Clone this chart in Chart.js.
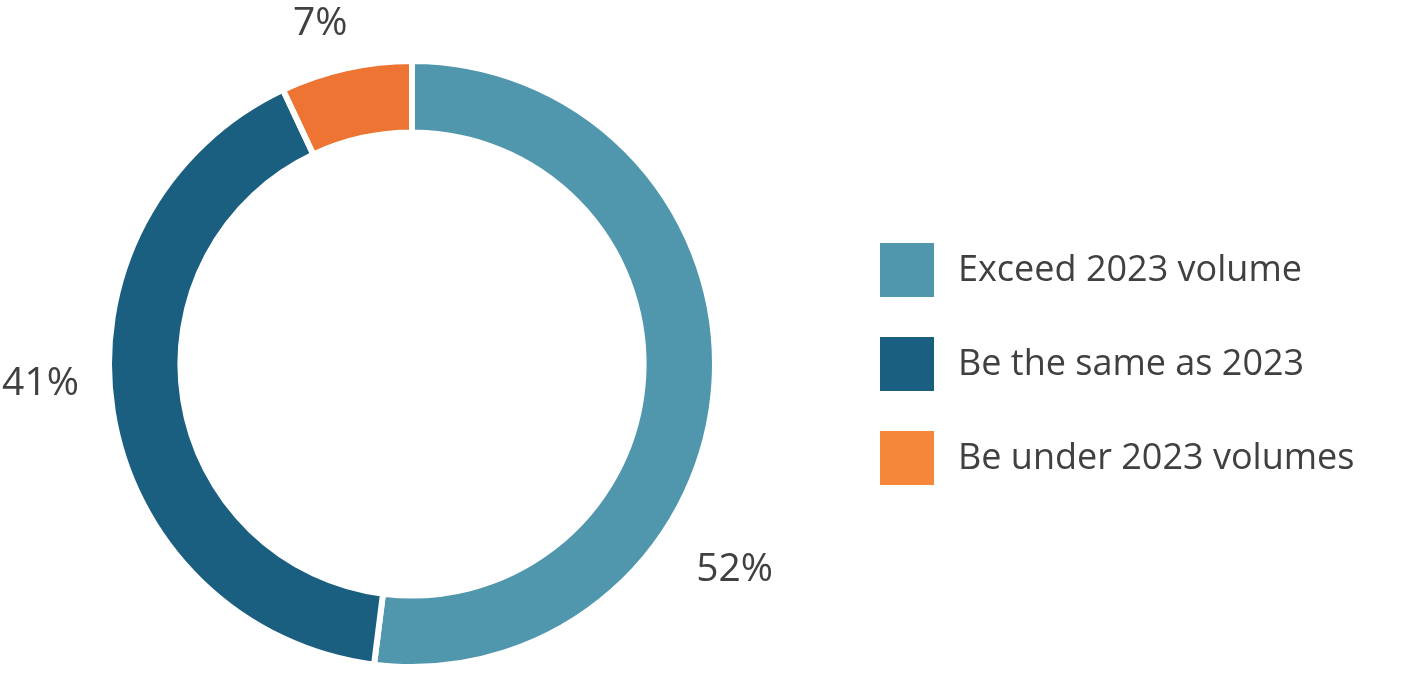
<!DOCTYPE html>
<html>
<head>
<meta charset="utf-8">
<script src="https://cdn.jsdelivr.net/npm/chart.js@4.4.1/dist/chart.umd.min.js"></script>
<style>
html,body{margin:0;padding:0;background:#fff;}
#wrap{position:relative;width:1417px;height:678px;}
</style>
</head>
<body>
<div id="wrap"><canvas id="c" width="1417" height="678"></canvas></div>
<script>
const categories = ["Exceed 2023 volume", "Be the same as 2023", "Be under 2023 volumes"];
const shares = [52, 41, 7];
const sliceColors = ["#5097AE", "#1B5F80", "#ED7433"];
const legendColors = ["#5097AE", "#1B5F80", "#F5873A"];

const FONT = "'Open Sans', 'DejaVu Sans', sans-serif";
const TEXT = "#404040";

// per-label placement tweaks (angle shift in degrees, distance beyond outer radius)
const labelShift = [29, 6, -2.5];
const labelGap = [80, 69, 49];

const labelPlugin = {
  id: 'outLabels',
  afterDatasetsDraw(chart) {
    const ctx = chart.ctx;
    const meta = chart.getDatasetMeta(0);
    ctx.save();
    ctx.font = "39px " + FONT;
    ctx.fillStyle = TEXT;
    ctx.textAlign = 'center';
    ctx.textBaseline = 'middle';
    meta.data.forEach((arc, i) => {
      const p = arc.getProps(['x','y','startAngle','endAngle','outerRadius'], true);
      const mid = (p.startAngle + p.endAngle) / 2 + labelShift[i] * Math.PI / 180;
      const r = p.outerRadius + labelGap[i];
      const x = p.x + Math.cos(mid) * r;
      const y = p.y + Math.sin(mid) * r;
      ctx.fillText(chart.data.datasets[0].data[i] + '%', x, y);
    });
    ctx.restore();
  }
};

const legendPlugin = {
  id: 'sideLegend',
  afterDraw(chart) {
    const ctx = chart.ctx;
    ctx.save();
    ctx.font = "36px " + FONT;
    ctx.textAlign = 'left';
    ctx.textBaseline = 'middle';
    const x0 = 880, y0 = 270, step = 94, box = 54;
    chart.data.labels.forEach((lab, i) => {
      const cy = y0 + i * step;
      ctx.fillStyle = legendColors[i];
      ctx.fillRect(x0, cy - box / 2, box, box);
      ctx.fillStyle = TEXT;
      ctx.fillText(lab, x0 + 78, cy + 1);
    });
    ctx.restore();
  }
};

new Chart(document.getElementById('c'), {
  type: 'doughnut',
  data: {
    labels: categories,
    datasets: [{
      data: shares,
      backgroundColor: sliceColors,
      borderColor: '#ffffff',
      borderWidth: 6,
      hoverOffset: 0
    }]
  },
  options: {
    responsive: false,
    animation: false,
    radius: 303,
    cutout: 227,
    layout: { padding: { left: 112, right: 705, top: 64, bottom: 14 } },
    plugins: { legend: { display: false }, tooltip: { enabled: false } }
  },
  plugins: [labelPlugin, legendPlugin]
});
</script>
</body>
</html>
